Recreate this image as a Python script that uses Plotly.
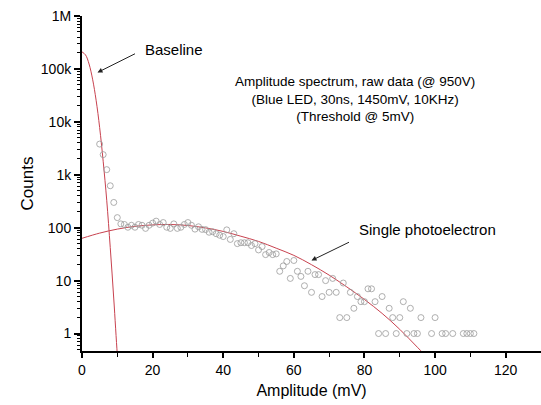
import plotly.graph_objects as go

# Measured histogram (amplitude bins in mV, counts)
amp_mv = [5, 6, 7, 8, 9, 10, 11, 12, 13, 14, 15, 16, 17, 18, 19, 20, 21, 22, 23, 24,
          25, 26, 27, 28, 29, 30, 31, 32, 33, 34, 35, 36, 37, 38, 39, 40, 41, 42, 43, 44,
          45, 46, 47, 48, 49, 50, 51, 52, 53, 54, 55, 56, 57, 58, 59, 60, 61, 62, 63, 64,
          65, 66, 67, 68, 69, 70, 71, 72, 73, 74, 75, 76, 77, 78, 79, 80, 81, 82, 83, 84, 85,
          86, 87, 88, 89, 90, 91, 92, 93, 94, 95, 96, 99, 100, 102, 103, 105, 108, 109, 110, 111]
counts = [3800, 2400, 1250, 620, 300, 155, 118, 115, 102, 111, 102, 115, 111, 97, 111, 122, 133, 115, 125, 102,
          97, 118, 97, 102, 115, 125, 111, 94, 104, 93, 92, 82, 84, 77, 72, 68, 91, 60, 77, 50,
          52, 52, 52, 46, 50, 38, 44, 31, 34, 31, 32, 15, 19, 23, 11, 24, 15, 12, 8, 15,
          6, 13, 13, 5, 10, 6, 11, 6, 2, 9, 2, 6, 3, 5, 4, 4, 7, 7, 4, 1, 5,
          1, 3, 2, 1, 2, 4, 1, 3, 1, 1, 2, 1, 2, 1, 1, 1, 1, 1, 1, 1]

# Baseline fit curve
base_x = [0, 1, 2, 3, 4, 5, 6, 7, 8, 9, 10, 10.5]
base_y = [210000, 184000, 124000, 64000, 25600, 7800, 1800, 330, 42, 4.5, 0.4, 0.15]

# Single photoelectron fit curve
spe_x = [0, 5, 10, 15, 20, 25, 30, 35, 40, 45, 50, 55, 60, 65, 70, 75, 80, 85, 90, 95, 100]
spe_y = [63, 79, 94, 106, 113, 115, 110, 99, 85, 69, 55, 41, 30, 20, 12.7, 7.6, 4.4, 2.4, 1.2, 0.55, 0.25]

y_tickvals = [1, 10, 100, 1000, 10000, 100000, 1000000]
y_ticktext = ["1", "10", "100", "1k", "10k", "100k", "1M"]
x_tickvals = [0, 20, 40, 60, 80, 100, 120]

title_lines = ["Amplitude spectrum, raw data (@ 950V)",
               "(Blue LED, 30ns, 1450mV, 10KHz)",
               "(Threshold @ 5mV)"]

FONT = "Liberation Sans, Arial, sans-serif"
RED = "#c8424f"

fig = go.Figure()
fig.add_trace(go.Scatter(x=base_x, y=base_y, mode="lines",
                         line=dict(color=RED, width=1, shape="spline"),
                         hoverinfo="skip", showlegend=False, cliponaxis=True))
fig.add_trace(go.Scatter(x=spe_x, y=spe_y, mode="lines",
                         line=dict(color=RED, width=1, shape="spline"),
                         hoverinfo="skip", showlegend=False, cliponaxis=True))
fig.add_trace(go.Scatter(x=amp_mv, y=counts, mode="markers",
                         marker=dict(symbol="circle-open", size=6, color="#9a9a9a",
                                     line=dict(width=0.8, color="#9a9a9a")),
                         showlegend=False))

fig.update_layout(
    width=541, height=405,
    margin=dict(l=82, r=0, t=16, b=54),
    paper_bgcolor="white", plot_bgcolor="white",
    font=dict(family=FONT, color="black"),
    xaxis=dict(range=[0, 130], tickvals=x_tickvals, ticks="outside", ticklen=5,
               tickwidth=1.5, tickcolor="black", showline=True, linewidth=2,
               linecolor="black", showgrid=False, zeroline=False,
               tickfont=dict(size=14),
               minor=dict(dtick=10, ticks="outside", ticklen=4, tickcolor="black",
                          tickwidth=1.2, showgrid=False),
               title=dict(text="Amplitude (mV)", font=dict(size=16), standoff=8)),
    yaxis=dict(type="log", range=[-0.33, 6], tickvals=y_tickvals, ticktext=y_ticktext,
               ticks="outside", ticklen=6, tickwidth=1.5, tickcolor="black",
               showline=True, linewidth=2, linecolor="black", showgrid=False,
               zeroline=False, tickfont=dict(size=14),
               minor=dict(dtick="D1", ticks="outside", ticklen=3, tickcolor="black",
                          tickwidth=1, showgrid=False),
               title=dict(text="Counts", font=dict(size=17), standoff=3)),
)

# Text annotations (paper coordinates)
fig.add_annotation(x=(143 - 82) / 459, y=(351 - 49) / 335, xref="paper", yref="paper",
                   text="Baseline", showarrow=False, xanchor="left", yanchor="middle",
                   font=dict(size=15, family=FONT))
fig.add_annotation(x=(357 - 82) / 459, y=(351 - 229.5) / 335, xref="paper", yref="paper",
                   text="Single photoelectron", showarrow=False, xanchor="left",
                   yanchor="middle", font=dict(size=15, family=FONT))
fig.add_annotation(x=(355 - 82) / 459, y=(351 - 99) / 335, xref="paper", yref="paper",
                   text="<br>".join(title_lines), showarrow=False, xanchor="center",
                   yanchor="middle", align="center", font=dict(size=13.5, family=FONT))

# Arrows: head position in paper coords, tail as pixel offset
def arrow(head, tail):
    fig.add_annotation(x=(head[0] - 82) / 459, y=(351 - head[1]) / 335,
                       ax=tail[0] - head[0], ay=tail[1] - head[1],
                       xref="paper", yref="paper", axref="pixel", ayref="pixel",
                       text="", showarrow=True, arrowhead=2, arrowsize=1,
                       arrowwidth=1, arrowcolor="#222222", standoff=0)

arrow((97.5, 72.5), (136.5, 53))
arrow((311.5, 260.5), (350.5, 241.5))

fig.write_html("out.html", config={"displayModeBar": False},
               post_script="document.body.style.margin='0';document.body.style.overflow='hidden';")
